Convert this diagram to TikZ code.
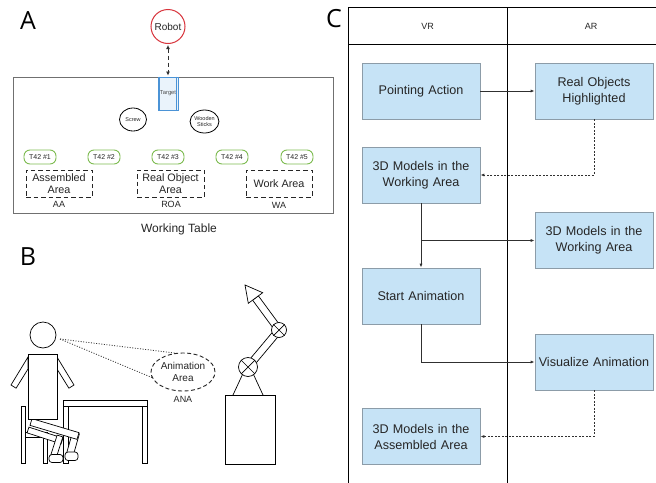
\documentclass[tikz,border=0pt]{standalone}
\usepackage{fontspec}
\setmainfont{Liberation Sans}
\newfontfamily\panelfont{Open Sans}
\usetikzlibrary{arrows.meta,calc,shapes.geometric}

\definecolor{boxfill}{HTML}{C6E3F6}
\definecolor{boxline}{HTML}{8C9CA8}
\definecolor{robotred}{HTML}{D8343C}
\definecolor{tagreen}{HTML}{7DBB50}
\definecolor{targetblue}{HTML}{4B93D6}
\definecolor{targetfill}{HTML}{EAF3FB}
\definecolor{tablegray}{HTML}{707070}
\definecolor{txt}{HTML}{262626}
\definecolor{linec}{HTML}{303030}

\newcommand\sz[2]{\fontsize{#1}{#2}\selectfont}
% a straight bar of half-width #3 from point #1 to point #2
\newcommand\limbbar[3]{%
  \draw[outline] ($(#1)!#3!90:(#2)$) -- ($(#2)!#3!-90:(#1)$) --
    ($(#2)!#3!90:(#1)$) -- ($(#1)!#3!-90:(#2)$) -- cycle;}

\begin{document}
\begin{tikzpicture}[x=1pt,y=-1pt,
  panel/.style={font=\panelfont\sz{25}{30}, text=black},
  tag/.style={draw=tagreen, line width=0.9pt, rounded corners=6pt,
    minimum width=32pt, minimum height=14pt, inner sep=0pt,
    font=\sz{7}{8}, text=txt},
  area/.style={draw=black!85, dash pattern=on 4.5pt off 3pt, line width=1pt,
    minimum width=66pt, minimum height=27pt, inner sep=0pt, align=center,
    font=\sz{10.8}{12.5}, text=txt},
  small/.style={font=\sz{9}{10}, text=txt},
  item/.style={ellipse, draw, line width=0.8pt, minimum width=27pt,
    minimum height=23pt, inner sep=0pt, align=center, font=\sz{5.5}{6.2}, text=txt},
  outline/.style={draw=black, line width=0.7pt, fill=white},
  joint/.style={circle, outline, inner sep=0pt},
  flowbox/.style={draw=boxline, fill=boxfill, line width=0.7pt,
    minimum height=56pt, text width=116pt, inner sep=1pt, align=center,
    font=\sz{12.6}{16}, text=txt},
  link/.style={draw=linec, line width=0.8pt, -{Latex[length=4pt,width=3pt]}},
  dlink/.style={link, dash pattern=on 2pt off 1.5pt},
  lane/.style={draw=black, line width=0.9pt}]

\useasboundingbox (0,0) rectangle (656,482);
\fill[white] (0,0) rectangle (656,482);

% ---------------- Panel A: working table layout ----------------
\node[panel] (labA) at (28,21) {A};
\node[draw=tablegray, line width=1pt, minimum width=320pt, minimum height=136pt,
  inner sep=0pt] (table) at (173,145) {};
\node[circle, draw=robotred, line width=1pt, minimum size=34pt, inner sep=0pt,
  font=\sz{10}{12}, text=txt] (robot) at (168,26.5) {Robot};
\node[draw=targetblue, line width=0.9pt, fill=targetfill, minimum width=20pt,
  minimum height=33pt, inner sep=0pt, font=\sz{5.8}{7}, text=black!70]
  (target) at (168,93.5) {Target};
\draw[targetblue, line width=0.6pt]
  ([xshift=2pt]target.north west) -- ([xshift=2pt]target.south west)
  ([xshift=-2pt]target.north east) -- ([xshift=-2pt]target.south east);
\draw[linec, line width=0.9pt, dash pattern=on 4.5pt off 2.5pt,
  {Latex[length=4pt,width=4pt]}-{Latex[length=4pt,width=4pt]}]
  ([yshift=-1pt]robot.south) -- ([yshift=1pt]target.north);

\node[item] (screw) at (133,119.5) {Screw};
\node[item] (sticks) at (204.5,121.5) {Wooden\\Sticks};

\node[tag] (t1) at (40,157) {T42 \#1};
\node[tag] (t2) at (104,157) {T42 \#2};
\node[tag] (t3) at (168,157) {T42 \#3};
\node[tag] (t4) at (232,157) {T42 \#4};
\node[tag] (t5) at (297,157) {T42 \#5};

\node[area] (aa) at (59,183.5) {Assembled\\Area};
\node[area, minimum width=67pt] (roa) at (170.5,183.5) {Real Object\\Area};
\node[area] (wa) at (279,183.5) {Work Area};
\node[small] (aaL) at (59,204.5) {AA};
\node[small] (roaL) at (171,204.5) {ROA};
\node[small] (waL) at (279,205) {WA};
\node[font=\sz{12}{14}, text=txt] (tableL) at (179,229) {Working Table};

% ---------------- Panel B: seated user and robot arm ----------------
\node[panel] (labB) at (28,257) {B};

% chair
\draw[outline] (21,406) rectangle (25,463);
\draw[outline] (25,432) rectangle (47,437);
\draw[outline] (43,437) rectangle (47,463);
% desk
\draw[outline] (63,400) rectangle (147,406);
\draw[outline] (63,406) rectangle (68,463);
\draw[outline] (142,406) rectangle (147,463);

% legs
\limbbar{28,430}{62,441}{3pt}
\limbbar{60,436}{53,458}{3pt}
\draw[outline, rounded corners=3pt] (49,454.5) rectangle (63,462.5);
\limbbar{76,433}{70,454}{3.5pt}
\draw[outline, rounded corners=3pt] (65,452) rectangle (78,460.5);
\limbbar{31,422}{78,436}{3.5pt}

% arms, body, head
\draw[outline] (28,357) -- (11,385) -- (16.1,388.2) -- (28,369) -- cycle;
\draw[outline] (57,357) -- (74,385) -- (68.9,388.2) -- (57,369) -- cycle;
\draw[outline] (28,354) rectangle (57,419);
\node[circle, outline, minimum size=26pt, inner sep=0pt] (head) at (43,335) {};
\coordinate (eye) at (60,339);

% viewing area
\node[ellipse, draw=black!85, line width=0.9pt, dash pattern=on 4pt off 2.5pt,
  minimum width=64pt, minimum height=38pt, inner sep=0pt, align=center,
  font=\sz{10}{11.5}, text=txt] (ana) at (183,372) {Animation\\Area};
\node[small] (anaL) at (183,399.5) {ANA};
\draw[black!80, line width=0.8pt, dash pattern=on 1pt off 1.6pt] (eye) -- (ana.112);
\draw[black!80, line width=0.8pt, dash pattern=on 1pt off 1.6pt] (eye) -- (ana.190);

% robot arm
\draw[black, line width=0.7pt] (242.5,374.5) -- (233,395) (253.5,374.5) -- (263,395);
\draw[outline] (225,395) rectangle (275,464);
\limbbar{248,367}{279,330}{3.6pt}
\limbbar{279,330}{255.5,298}{3.6pt}
\draw[outline] (245,285) -- (262.7,292.7) -- (248.3,303.3) -- cycle;
\node[joint, minimum size=19pt] (j1) at (248,367) {};
\draw[line width=0.7pt] (j1.45) -- (j1.225) (j1.135) -- (j1.315);
\node[joint, minimum size=15pt] (j2) at (279,330) {};
\draw[line width=0.7pt] (j2.45) -- (j2.225) (j2.135) -- (j2.315);

% ---------------- Panel C: VR / AR swimlanes ----------------
\node[panel] (labC) at (334,19) {C};
\coordinate (fTL) at (348,7);
\coordinate (fTR) at (660,7);
\coordinate (hL) at (348,44);
\coordinate (hR) at (660,44);
\coordinate (mT) at (507,7);
\coordinate (mB) at (507,490);
\coordinate (fBL) at (348,490);
\draw[lane] (fTR) -- (fTL) -- (fBL);
\draw[lane] (hL) -- (hR);
\draw[lane] (mT) -- (mB);
\node[small] (vr) at (427.5,26) {VR};
\node[small] (ar) at (591,26) {AR};

\node[flowbox] (pa) at (421,91) {Pointing Action};
\node[flowbox] (roh) at (594,91) {Real Objects\\Highlighted};
\node[flowbox] (m3w) at (421,175) {3D Models in the\\Working Area};
\node[flowbox] (m3wa) at (594,240.5) {3D Models in the\\Working Area};
\node[flowbox] (sa) at (421,296) {Start Animation};
\node[flowbox] (va) at (594,362) {Visualize Animation};
\node[flowbox] (m3a) at (421,436.5) {3D Models in the\\Assembled Area};

\draw[link] (pa.east) -- (roh.west);
\draw[dlink] (roh.south) |- (m3w.east);
\draw[link] (m3w.south) -- (sa.north);
\draw[link] (m3w.south |- m3wa.west) -- (m3wa.west);
\draw[link] (sa.south) |- (va.west);
\draw[dlink] (va.south) |- (m3a.east);
\end{tikzpicture}
\end{document}
